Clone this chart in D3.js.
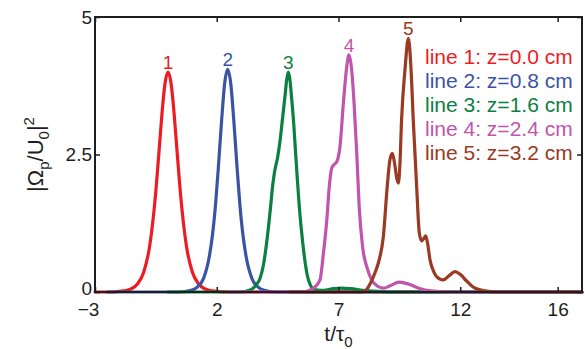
<!DOCTYPE HTML>
<html>
	<head>
		<meta charset="utf-8">
		<title>Pulse profiles</title>
		<style>
body{
	margin: 0;
	background: #fff;
}
svg{
	font-family: "Liberation Sans", Arial, sans-serif;
}
.frame{
	fill: none;
	stroke: #1e1e1e;
	stroke-width: 2px;
}
.tick line{
	stroke: #1e1e1e;
	stroke-width: 1.5px;
}
.tick text{
	font-size: 19px;
	fill: #1e1e1e;
}
.curve{
	fill: none;
	stroke-width: 3.2px;
	stroke-linejoin: round;
	stroke-linecap: round;
}
		</style>
	</head>
	<body>
<script src="https://d3js.org/d3.v7.min.js"></script>
<script>
// tick values
var xTicks = [-3, 2, 7, 12, 16];
var yTicks = [0, 2.5, 5];

// legend text + colours
var names = ["line 1: z=0.0 cm", "line 2: z=0.8 cm", "line 3: z=1.6 cm", "line 4: z=2.4 cm", "line 5: z=3.2 cm"];
var colors = ["#ed1c24", "#3a54a4", "#0b8040", "#c055ae", "#9a3a22"];

// [t/tau0, |Omega_p/U0|^2]
var line1 = [[-3,0],[-2.5,0],[-2,0.01],[-1.5,0.06],[-1.25,0.15],[-1,0.36],[-0.75,0.85],[-0.625,1.28],[-0.5,1.84],[-0.375,2.53],[-0.25,3.24],[-0.125,3.79],[0,4.0],
	[0.125,3.79],[0.25,3.24],[0.375,2.53],[0.5,1.84],[0.625,1.28],[0.75,0.85],[1,0.36],[1.25,0.15],[1.5,0.06],[2,0.01],[2.5,0],[17,0]];
var line2 = [[-2.5,0],[0.45,0],[0.95,0.03],[1.2,0.09],[1.45,0.24],[1.7,0.66],[1.825,1.04],[1.95,1.59],[2.075,2.32],[2.2,3.12],[2.325,3.79],[2.45,4.05],
	[2.575,3.79],[2.7,3.12],[2.825,2.32],[2.95,1.59],[3.075,1.04],[3.2,0.66],[3.45,0.24],[3.7,0.09],[3.95,0.03],[4.45,0],[17,0]];
var line3 = [[0,0],[3.0,0],[3.4,0.04],[3.6,0.12],[3.78,0.25],[3.92,0.5],[4.05,0.9],[4.2,1.5],[4.3,1.95],[4.38,2.2],[4.5,2.45],[4.6,2.75],[4.7,3.15],[4.8,3.55],[4.88,3.88],[4.94,4.0],
	[5.0,3.88],[5.08,3.5],[5.16,3.07],[5.23,2.58],[5.31,2.05],[5.39,1.55],[5.53,0.9],[5.72,0.3],[5.85,0.12],[5.97,0.05],[6.3,0.03],[6.8,0.06],[7.1,0.07],[7.5,0.06],[8.0,0.03],[8.6,0.01],[9.2,0],[17,0]];
var line4 = [[2.5,0],[5.5,0],[5.8,0.03],[6.0,0.08],[6.24,0.22],[6.38,0.7],[6.52,1.31],[6.62,1.91],[6.72,2.25],[6.82,2.32],[6.92,2.36],[7.06,2.64],[7.2,3.43],[7.34,4.1],[7.43,4.31],
	[7.54,4.04],[7.64,3.43],[7.75,2.52],[7.85,1.55],[7.99,0.82],[8.16,0.46],[8.36,0.22],[8.63,0.1],[8.85,0.07],[9.1,0.11],[9.5,0.18],[9.9,0.14],[10.3,0.07],[10.8,0.02],[11.5,0],[17,0]];
var line5 = [[5,0],[7.9,0],[8.1,0.02],[8.3,0.15],[8.5,0.35],[8.65,0.55],[8.84,1.0],[9.0,1.91],[9.11,2.4],[9.21,2.52],[9.3,2.35],[9.4,2.05],[9.46,1.98],[9.52,2.3],[9.59,3.13],[9.73,4.04],[9.87,4.61],
	[9.98,4.04],[10.07,3.13],[10.21,1.91],[10.32,1.07],[10.42,0.93],[10.5,0.97],[10.58,1.02],[10.66,0.88],[10.76,0.58],[10.9,0.38],[11.03,0.28],[11.3,0.22],[11.55,0.3],[11.78,0.37],[12.0,0.32],
	[12.26,0.2],[12.5,0.1],[12.67,0.06],[13.0,0.02],[13.5,0],[17,0]];
var series = [line1, line2, line3, line4, line5];

var width = 585,
    height = 349,
    margin = {top: 17, right: 3, bottom: 57, left: 95};

var x = d3.scaleLinear().domain([-3, 17]).range([margin.left, width - margin.right]);
var y = d3.scaleLinear().domain([0, 5]).range([height - margin.bottom, margin.top]);

var svg = d3.select("body").append("svg")
    .attr("width", width)
    .attr("height", height);

// curves (later ones drawn on top)
var line = d3.line()
    .x(function(d){ return x(d[0]); })
    .y(function(d){ return y(d[1]); })
    .curve(d3.curveMonotoneX);

svg.selectAll(".curve")
    .data(series)
  .enter().append("path")
    .attr("class", "curve")
    .attr("stroke", function(d, i){ return colors[i]; })
    .attr("d", line);

// peak numbers
svg.selectAll(".peak")
    .data(series)
  .enter().append("text")
    .attr("class", "peak")
    .attr("text-anchor", "middle")
    .attr("font-size", "19px")
    .attr("fill", function(d, i){ return colors[i]; })
    .attr("x", function(d){ return x(d3.greatest(d, function(p){ return p[1]; })[0]); })
    .attr("y", function(d){ return y(d3.greatest(d, function(p){ return p[1]; })[1]) - 3; })
    .text(function(d, i){ return i + 1; });

// axes, ticks pointing inward
var bottom = svg.append("g")
    .attr("transform", "translate(0," + y(0) + ")")
    .call(d3.axisBottom(x).tickValues(xTicks).tickSize(-5).tickPadding(11).tickFormat(d3.format("d")));
bottom.selectAll(".tick text").filter(function(d){ return d == -3; }).attr("dx", -7);

svg.append("g")
    .attr("transform", "translate(0," + y(5) + ")")
    .call(d3.axisTop(x).tickValues(xTicks).tickSize(-5).tickFormat(""));

var left = svg.append("g")
    .attr("transform", "translate(" + x(-3) + ",0)")
    .call(d3.axisLeft(y).tickValues(yTicks).tickSize(-5).tickPadding(3).tickFormat(d3.format("")));
left.selectAll(".tick text").filter(function(d){ return d == 0; }).attr("dy", "0.15em");

svg.append("g")
    .attr("transform", "translate(" + x(17) + ",0)")
    .call(d3.axisRight(y).tickValues(yTicks).tickSize(-5).tickFormat(""));

svg.selectAll(".domain").remove();

svg.append("rect")
    .attr("class", "frame")
    .attr("x", x(-3))
    .attr("y", y(5))
    .attr("width", x(17) - x(-3))
    .attr("height", y(0) - y(5));

// legend
svg.selectAll(".legend")
    .data(names)
  .enter().append("text")
    .attr("class", "legend")
    .attr("x", 425)
    .attr("y", function(d, i){ return 64 + i * 24; })
    .attr("font-size", "21px")
    .attr("fill", function(d, i){ return colors[i]; })
    .text(function(d){ return d; });

// axis labels
var xl = svg.append("text")
    .attr("x", (x(-3) + x(17)) / 2)
    .attr("y", 341)
    .attr("text-anchor", "middle")
    .attr("font-size", "21px")
    .attr("fill", "#1e1e1e");
xl.append("tspan").text("t/τ");
xl.append("tspan").attr("dy", 6).attr("font-size", "15px").text("0");

var yl = svg.append("text")
    .attr("transform", "translate(43," + y(2.5) + ")rotate(-90)")
    .attr("text-anchor", "middle")
    .attr("font-size", "22px")
    .attr("fill", "#1e1e1e");
yl.append("tspan").text("|Ω");
yl.append("tspan").attr("dy", 6).attr("font-size", "15px").text("p");
yl.append("tspan").attr("dy", -6).text("/U");
yl.append("tspan").attr("dy", 6).attr("font-size", "15px").text("0");
yl.append("tspan").attr("dy", -6).text("|");
yl.append("tspan").attr("dy", -9).attr("font-size", "15px").text("2");
</script>
</body>
</html>
